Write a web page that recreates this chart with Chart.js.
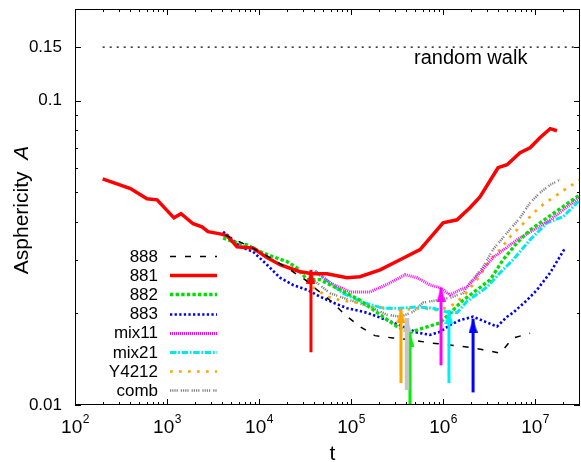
<!DOCTYPE html>
<html>
<head>
<meta charset="utf-8">
<script src="https://cdn.jsdelivr.net/npm/chart.js@4.4.1/dist/chart.umd.min.js"></script>
<style>
  html, body { margin: 0; padding: 0; background: #fff; }
</style>
</head>
<body>
<canvas id="chart" width="581" height="462"></canvas>
<script>
// values (t, asphericity A)
const t888 = [4270, 7980, 13200, 21700, 31600, 42700, 62100, 86000, 125000, 182000, 286000, 438000, 722000, 1.10e6, 1.82e6, 2.72e6, 4.17e6, 5.77e6, 8.83e6];
const a888 = [0.0362, 0.0331, 0.0305, 0.0278, 0.0258, 0.0239, 0.0218, 0.0198, 0.0181, 0.0169, 0.0166, 0.0164, 0.0160, 0.0158, 0.0155, 0.0152, 0.0148, 0.0166, 0.0172];

const t881 = [200, 400, 606, 780, 1190, 1420, 1920, 2400, 2790, 3770, 4490, 5770, 8610, 12200, 16900, 27900, 38600, 54800, 90500, 125000, 207000, 341000, 563000, 1.0e6, 1.42e6, 1.96e6, 2.52e6, 3.96e6, 4.97e6, 6.87e6, 8.83e6, 1.13e7, 1.46e7, 1.73e7];
const a881 = [0.0553, 0.0514, 0.0476, 0.0472, 0.0412, 0.0425, 0.0394, 0.0385, 0.0371, 0.0365, 0.0360, 0.0331, 0.0328, 0.0305, 0.0289, 0.0274, 0.0270, 0.0270, 0.0262, 0.0264, 0.0278, 0.0300, 0.0324, 0.0397, 0.0406, 0.0445, 0.0483, 0.0602, 0.0616, 0.0674, 0.0700, 0.0755, 0.0809, 0.0796];

const t882 = [4070, 5210, 7410, 10300, 14200, 20100, 25900, 33300, 46100, 75900, 125000, 207000, 316000, 437000, 607000, 928000, 1.65e6, 2.34e6, 3.25e6, 4.49e6, 6.37e6, 8.83e6, 1.35e7, 2.01e7, 3.08e7];
const a882 = [0.0354, 0.0344, 0.0336, 0.0319, 0.0307, 0.0296, 0.0282, 0.0258, 0.0258, 0.0239, 0.0221, 0.0198, 0.0181, 0.0173, 0.0179, 0.0186, 0.0221, 0.0239, 0.0258, 0.0300, 0.0341, 0.0376, 0.0412, 0.0448, 0.0491];

const t883 = [4070, 5210, 6210, 8610, 12200, 16900, 23400, 33300, 46100, 63700, 90500, 149000, 246000, 367000, 521000, 722000, 928000, 1.19e6, 1.53e6, 2.12e6, 3.86e6, 4.97e6, 5.77e6, 8.18e6, 1.05e7, 1.46e7, 2.12e7];
const a883 = [0.0371, 0.0349, 0.0331, 0.0319, 0.0289, 0.0262, 0.0248, 0.0239, 0.0227, 0.0217, 0.0208, 0.0201, 0.0190, 0.0181, 0.0173, 0.0170, 0.0174, 0.0183, 0.0190, 0.0195, 0.0181, 0.0195, 0.0201, 0.0221, 0.0239, 0.0272, 0.0328];

const tMix11 = [40700, 59200, 97500, 161000, 266000, 386000, 521000, 722000, 928000, 1.19e6, 1.53e6, 1.82e6, 2.52e6, 3.49e6, 6.37e6, 1.05e7, 1.46e7, 2.23e7, 3.08e7];
const aMix11 = [0.0276, 0.0252, 0.0235, 0.0235, 0.0252, 0.0268, 0.0262, 0.0248, 0.0243, 0.0230, 0.0239, 0.0244, 0.0272, 0.0305, 0.0349, 0.0382, 0.0406, 0.0448, 0.0483];

const tMix21 = [40700, 59200, 81800, 135000, 223000, 341000, 521000, 778000, 1.10e6, 1.42e6, 1.82e6, 3.01e6, 4.17e6, 5.77e6, 8.83e6, 1.35e7, 2.01e7, 3.08e7];
const aMix21 = [0.0274, 0.0252, 0.0233, 0.0217, 0.0208, 0.0208, 0.0210, 0.0208, 0.0202, 0.0201, 0.0219, 0.0244, 0.0272, 0.0300, 0.0349, 0.0397, 0.0415, 0.0472];

const tY4212 = [38600, 54800, 75900, 116000, 173000, 266000, 341000, 607000, 861000, 1.19e6, 1.65e6, 2.34e6, 3.25e6, 4.17e6, 5.35e6, 8.18e6, 1.13e7, 1.87e7, 3.08e7];
const aY4212 = [0.0244, 0.0227, 0.0221, 0.0217, 0.0210, 0.0208, 0.0205, 0.0208, 0.0205, 0.0210, 0.0227, 0.0258, 0.0300, 0.0324, 0.0357, 0.0406, 0.0448, 0.0498, 0.0550];

const tComb = [38600, 59200, 97500, 161000, 246000, 341000, 472000, 607000, 861000, 1.19e6, 1.65e6, 1.96e6, 2.72e6, 3.49e6, 4.97e6, 6.87e6, 8.83e6, 1.13e7, 1.46e7, 1.87e7];
const aComb = [0.0258, 0.0233, 0.0221, 0.0210, 0.0198, 0.0195, 0.0202, 0.0217, 0.0221, 0.0225, 0.0233, 0.0252, 0.0284, 0.0324, 0.0368, 0.0412, 0.0462, 0.0498, 0.0529, 0.0550];

// random walk reference level
const tRandom = [200, 3.08e7];
const aRandom = [0.15, 0.15];

// vertical arrows (crossover times)
const arrowT = [36700, 349000, 406000, 437000, 951000, 1.16e6, 2.12e6];
const arrowFrom = [0.0149, 0.0118, 0.0112, 0.0100, 0.0135, 0.0118, 0.0110];
const arrowTo = [0.0278, 0.0207, 0.0193, 0.0173, 0.0243, 0.0205, 0.0192];
const arrowColors = ['#ff0000', '#ffa500', '#c4c4c4', '#00ee00', '#ff00ff', '#00f0f0', '#0000ff'];
const arrowWidths = [3, 3, 4.5, 3, 3, 3, 3];

// axis ticks
const xTicks = [1e2, 1e3, 1e4, 1e5, 1e6, 1e7];
const xTickExp = ['2', '3', '4', '5', '6', '7'];
const yTicks = [0.01, 0.1, 0.15];
const yTickLabels = ['0.01', '0.1', '0.15'];
const yMinor = [0.02, 0.03, 0.04, 0.05, 0.06, 0.07, 0.08, 0.09];

const FONT = "'Liberation Sans', Arial, Helvetica, sans-serif";

function pts(t, a) {
    return t.map((x, i) => ({ x: x, y: a[i] }));
}

// elongated arrow head, tip sits on the data point
function arrowHead(color) {
    const c = document.createElement('canvas');
    c.width = 9;
    c.height = 28;
    const g = c.getContext('2d');
    g.fillStyle = color;
    g.beginPath();
    g.moveTo(4.5, 14);
    g.lineTo(9, 28);
    g.lineTo(0, 28);
    g.closePath();
    g.fill();
    return c;
}

const series = [
    { label: '888', t: t888, a: a888, color: '#000000', width: 1.5, dash: [6, 9] },
    { label: '881', t: t881, a: a881, color: '#ff0000', width: 3.5, dash: [] },
    { label: '882', t: t882, a: a882, color: '#00e000', width: 3.3, dash: [3.4, 2.2] },
    { label: '883', t: t883, a: a883, color: '#0000ee', width: 2.6, dash: [2.3, 2.3] },
    { label: 'mix11', t: tMix11, a: aMix11, color: '#ff00ff', width: 3, dash: [1, 1] },
    { label: 'mix21', t: tMix21, a: aMix21, color: '#00e8f0', width: 3, dash: [6.5, 1.7, 1.7, 1.7] },
    { label: 'Y4212', t: tY4212, a: aY4212, color: '#ffa500', width: 2.7, dash: [2.7, 6.3] },
    { label: 'comb', t: tComb, a: aComb, color: '#808080', width: 2.4, dash: [1.2, 1, 1.2, 1, 1.2, 1, 1.2, 3] }
];

const datasets = series.map(s => ({
    label: s.label,
    data: pts(s.t, s.a),
    borderColor: s.color,
    borderWidth: s.width,
    borderDash: s.dash,
    pointRadius: 0,
    tension: 0,
    fill: false
}));

datasets.push({
    label: 'random walk',
    data: pts(tRandom, aRandom),
    borderColor: '#000000',
    borderWidth: 1.2,
    borderDash: [2, 5],
    pointRadius: 0,
    order: 5
});

arrowT.forEach((x, i) => {
    datasets.push({
        label: 'arrow' + i,
        data: [{ x: x, y: arrowFrom[i] }, { x: x, y: arrowTo[i] }],
        borderColor: arrowColors[i],
        borderWidth: arrowWidths[i],
        pointRadius: [0, 7],
        pointStyle: arrowHead(arrowColors[i]),
        order: -1
    });
});

// frame, inward ticks, x labels, titles and the legend
const decor = {
    id: 'decor',
    afterDraw(chart) {
        const ctx = chart.ctx;
        const a = chart.chartArea;
        const xs = chart.scales.x;
        const ys = chart.scales.y;
        ctx.save();
        ctx.strokeStyle = '#000';
        ctx.lineWidth = 1;
        ctx.strokeRect(a.left + 0.5, a.top + 0.5, a.right - a.left - 1, a.bottom - a.top - 1);

        ctx.beginPath();
        for (let k = 2; k <= 7; k++) {
            for (let m = 1; m <= 9; m++) {
                const v = m * Math.pow(10, k);
                if (v > xs.max) break;
                const px = Math.round(xs.getPixelForValue(v)) + 0.5;
                const len = m === 1 ? 6 : 3;
                ctx.moveTo(px, a.bottom);
                ctx.lineTo(px, a.bottom - len);
                ctx.moveTo(px, a.top);
                ctx.lineTo(px, a.top + len);
            }
        }
        yTicks.concat(yMinor).forEach(v => {
            const py = Math.round(ys.getPixelForValue(v)) + 0.5;
            const len = yTicks.includes(v) ? 6 : 3;
            ctx.moveTo(a.left, py);
            ctx.lineTo(a.left + len, py);
            ctx.moveTo(a.right, py);
            ctx.lineTo(a.right - len, py);
        });
        ctx.stroke();

        // x tick labels 10^k
        ctx.fillStyle = '#000';
        ctx.textBaseline = 'alphabetic';
        ctx.textAlign = 'left';
        xTicks.forEach((v, i) => {
            const px = xs.getPixelForValue(v);
            ctx.font = '19px ' + FONT;
            const w1 = ctx.measureText('10').width;
            ctx.font = '12px ' + FONT;
            const w2 = ctx.measureText(xTickExp[i]).width;
            const x0 = px - (w1 + w2) / 2;
            ctx.font = '19px ' + FONT;
            ctx.fillText('10', x0, a.bottom + 28);
            ctx.font = '12px ' + FONT;
            ctx.fillText(xTickExp[i], x0 + w1 + 0.5, a.bottom + 18);
        });

        // axis titles
        ctx.font = '21px ' + FONT;
        ctx.textAlign = 'center';
        ctx.fillText('t', (a.left + a.right) / 2 + 5, 460);

        ctx.save();
        ctx.translate(22, 210);
        ctx.rotate(-Math.PI / 2);
        ctx.textBaseline = 'middle';
        ctx.textAlign = 'left';
        ctx.font = '21px ' + FONT;
        const s1 = 'Asphericity  ';
        const w1 = ctx.measureText(s1).width;
        ctx.font = 'italic 21px ' + FONT;
        const w2 = ctx.measureText('A').width;
        const start = -(w1 + w2) / 2;
        ctx.font = '21px ' + FONT;
        ctx.fillText(s1, start, 0);
        ctx.font = 'italic 21px ' + FONT;
        ctx.fillText('A', start + w1, 0);
        ctx.restore();

        // random walk label
        ctx.font = '20px ' + FONT;
        ctx.textAlign = 'left';
        ctx.textBaseline = 'alphabetic';
        ctx.fillText('random walk', 414, 64);

        // legend: text right aligned, sample line to its right
        ctx.font = '17px ' + FONT;
        ctx.textAlign = 'right';
        ctx.textBaseline = 'middle';
        series.forEach((s, i) => {
            const y = 256 + i * 19.2;
            ctx.fillStyle = '#000';
            ctx.fillText(s.label, 158, y + 1);
            ctx.beginPath();
            ctx.strokeStyle = s.color;
            ctx.lineWidth = s.width;
            ctx.setLineDash(s.dash);
            ctx.moveTo(170, Math.round(y) + 0.5);
            ctx.lineTo(217, Math.round(y) + 0.5);
            ctx.stroke();
        });
        ctx.setLineDash([]);
        ctx.restore();
    }
};

new Chart(document.getElementById('chart'), {
    type: 'line',
    data: { datasets: datasets },
    options: {
        responsive: false,
        devicePixelRatio: 1,
        animation: false,
        layout: { autoPadding: false, padding: { top: 9, right: 1, left: 0, bottom: 0 } },
        plugins: {
            legend: { display: false },
            tooltip: { enabled: false }
        },
        scales: {
            x: {
                type: 'logarithmic',
                min: 100,
                max: 3.08e7,
                grid: { display: false, drawTicks: false },
                border: { display: false },
                ticks: { display: false },
                afterFit: (scale) => {
                    scale.height = 57;
                    scale.paddingLeft = 0;
                    scale.paddingRight = 0;
                }
            },
            y: {
                type: 'logarithmic',
                min: 0.01,
                max: 0.2,
                grid: { display: false, drawTicks: false },
                border: { display: false },
                afterBuildTicks: (scale) => {
                    scale.ticks = yTicks.map(v => ({ value: v }));
                },
                ticks: {
                    autoSkip: false,
                    padding: 13,
                    color: '#000',
                    font: { family: FONT, size: 17 },
                    callback: function(value, index) {
                        return yTickLabels[index];
                    }
                },
                afterFit: (scale) => {
                    scale.width = 75;
                    scale.paddingTop = 0;
                    scale.paddingBottom = 0;
                }
            }
        }
    },
    plugins: [decor]
});
</script>
</body>
</html>
